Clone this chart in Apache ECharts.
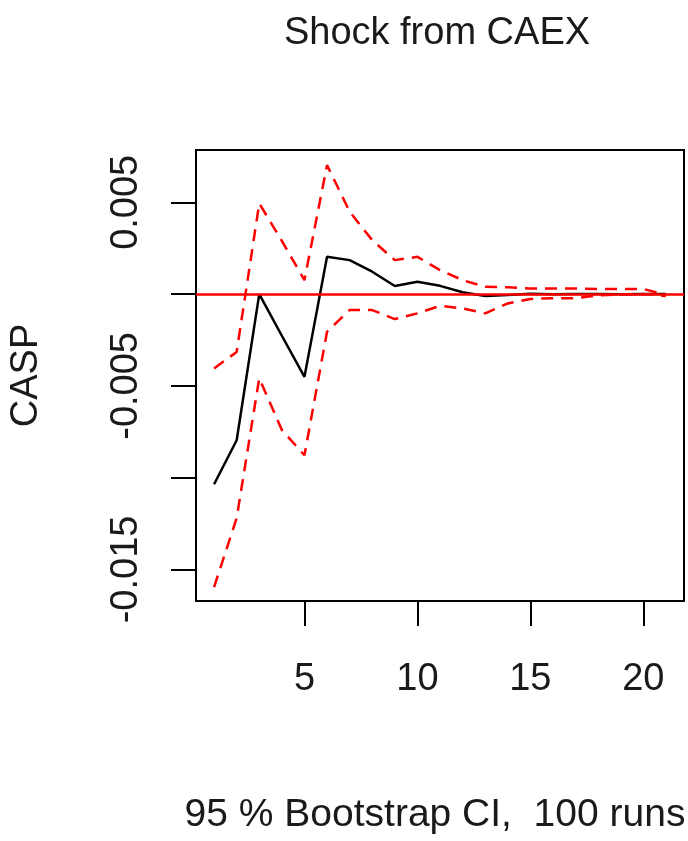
<!DOCTYPE html>
<html>
<head>
<meta charset="utf-8">
<script src="https://cdn.jsdelivr.net/npm/echarts@6/dist/echarts.min.js"></script>
<style>
html,body{margin:0;padding:0;background:#fff;}
#chart{width:688px;height:841px;}
</style>
</head>
<body>
<div id="chart"></div>
<script>
// Horizon (steps)
var steps = [1,2,3,4,5,6,7,8,9,10,11,12,13,14,15,16,17,18,19,20,21];
// Orthogonal impulse response of CASP to a shock from CAEX
var irf = [-0.01036,-0.00796,0.0,-0.00227,-0.00451,0.00203,0.00185,0.00122,0.00044,0.00067,0.00045,0.0001,-0.0001,-0.00005,0.00002,-0.00001,0.00001,0,-0.00001,0,0];
// 95% bootstrap CI bounds
var upper = [-0.00405,-0.00315,0.00494,0.0029,0.00076,0.00703,0.00449,0.00294,0.00185,0.00203,0.00131,0.00076,0.0004,0.00037,0.0003,0.0003,0.0003,0.00028,0.00028,0.00028,-0.00005];
var lower = [-0.01596,-0.0122,-0.00458,-0.0074,-0.00878,-0.00205,-0.00087,-0.00087,-0.00136,-0.00105,-0.00064,-0.00078,-0.00105,-0.00051,-0.00027,-0.00022,-0.00022,-0.00007,-0.00002,0,-0.0001];
// Axis ticks and labels
var xTicks = [5,10,15,20];
var yTicks = [-0.015,-0.01,-0.005,0,0.005];
var yLabels = [-0.015,-0.005,0.005];
var titleText = 'Shock from CAEX';
var subText = '95 % Bootstrap CI,  100 runs';
var yName = 'CASP';

function pairs(v){ return steps.map(function(s,i){ return [s, v[i]]; }); }

var font = '"Liberation Sans", Arial, sans-serif';
var chart = echarts.init(document.getElementById('chart'), null, {renderer:'canvas'});
chart.setOption({
  animation:false,
  backgroundColor:'#ffffff',
  grid:{left:196, top:150, right:4, bottom:240, show:true, borderColor:'#000', borderWidth:2, backgroundColor:'transparent'},
  xAxis:{
    type:'value', min:0.2, max:21.8,
    axisLine:{show:false, onZero:false},
    splitLine:{show:false},
    axisTick:{show:true, inside:false, length:25, customValues:xTicks, lineStyle:{color:'#000', width:2}},
    axisLabel:{show:true, customValues:xTicks, margin:60, fontSize:38, fontFamily:font, color:'#1a1a1a'}
  },
  yAxis:{
    type:'value', min:-0.01672, max:0.00785,
    name:yName, nameLocation:'middle', nameRotate:90, nameGap:150,
    nameTextStyle:{fontSize:38, fontFamily:font, color:'#1a1a1a'},
    axisLine:{show:false, onZero:false},
    splitLine:{show:false},
    axisTick:{show:true, inside:false, length:25, customValues:yTicks, lineStyle:{color:'#000', width:2}},
    axisLabel:{show:true, customValues:yLabels, rotate:90, margin:50, fontSize:38, fontFamily:font, color:'#1a1a1a',
      formatter:function(v){ return v.toFixed(3); }}
  },
  graphic:[
    {type:'text', x:437, y:34, style:{text:titleText, fontSize:38, fontFamily:font, fill:'#1a1a1a', align:'center', verticalAlign:'middle'}},
    {type:'text', x:435, y:815, style:{text:subText, fontSize:39, fontFamily:font, fill:'#1a1a1a', align:'center', verticalAlign:'middle'}}
  ],
  series:[
    {type:'line', data:pairs(irf), showSymbol:false, symbol:'none', lineStyle:{color:'#000', width:2.5}, z:2},
    {type:'line', data:pairs(upper), showSymbol:false, symbol:'none', lineStyle:{color:'#ff0000', width:2.5, type:[12,8]}, z:3},
    {type:'line', data:pairs(lower), showSymbol:false, symbol:'none', lineStyle:{color:'#ff0000', width:2.5, type:[12,8]}, z:3,
      markLine:{silent:true, symbol:['none','none'], label:{show:false}, lineStyle:{color:'#ff0000', width:2.5, type:'solid'}, data:[{yAxis:0}], z:5}}
  ]
});
</script>
</body>
</html>
